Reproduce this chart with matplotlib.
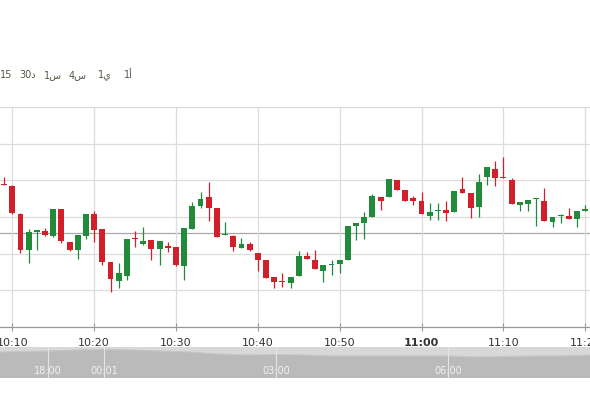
import matplotlib
matplotlib.use('Agg')
import matplotlib.pyplot as plt
import numpy as np

# One-minute candles, 10:09 .. 11:20 (minute offset from 10:10)
minutes = list(range(-1, 71))
opens = [1571.5, 1570.5, 1556.5, 1538.5, 1547.5, 1548.0, 1545.5, 1559.0, 1542.5, 1538.5,
         1545.5, 1556.5, 1549.0, 1532.5, 1523.0, 1525.5, 1544.5, 1541.5, 1543.5, 1539.0,
         1540.5, 1540.0, 1530.5, 1549.0, 1560.5, 1565.0, 1559.5, 1546.0, 1545.5, 1539.5,
         1541.5, 1537.0, 1533.5, 1525.0, 1522.5, 1522.0, 1525.5, 1535.5, 1533.5, 1528.0,
         1530.75, 1531.5, 1533.5, 1550.5, 1552.0, 1555.0, 1565.0, 1565.0, 1573.5, 1568.5,
         1564.5, 1563.0, 1555.5, 1558.0, 1558.5, 1557.5, 1569.0, 1567.0, 1560.0, 1575.0,
         1579.0, 1574.5, 1573.5, 1561.0, 1561.5, 1564.0, 1563.0, 1552.5, 1555.25, 1555.5,
         1554.0, 1558.0]
highs = [1575.0, 1571.0, 1557.0, 1549.0, 1548.5, 1549.5, 1559.0, 1559.0, 1542.5, 1546.0,
         1556.5, 1558.0, 1549.0, 1532.5, 1532.0, 1544.0, 1548.0, 1550.0, 1543.5, 1543.0,
         1542.5, 1540.0, 1549.5, 1562.5, 1567.5, 1572.5, 1559.5, 1552.5, 1546.0, 1544.5,
         1542.5, 1537.0, 1533.5, 1525.0, 1527.0, 1525.0, 1538.0, 1537.5, 1538.5, 1531.0,
         1533.5, 1533.5, 1550.5, 1552.0, 1557.5, 1566.5, 1565.0, 1574.0, 1573.5, 1568.5,
         1565.5, 1567.5, 1562.0, 1562.0, 1563.0, 1568.0, 1575.0, 1567.0, 1576.5, 1580.0,
         1583.0, 1585.0, 1574.5, 1562.5, 1563.5, 1564.5, 1569.5, 1555.0, 1556.5, 1559.5,
         1558.0, 1561.0]
lows = [1570.75, 1556.5, 1537.0, 1532.0, 1538.5, 1545.5, 1545.0, 1542.0, 1538.0, 1534.0,
        1544.0, 1542.5, 1531.0, 1517.5, 1519.5, 1523.5, 1540.0, 1541.0, 1533.5, 1531.0,
        1537.5, 1530.5, 1523.5, 1549.0, 1559.5, 1553.0, 1545.0, 1546.0, 1538.0, 1539.5,
        1538.0, 1528.0, 1524.5, 1519.5, 1520.0, 1519.5, 1525.5, 1534.0, 1529.0, 1522.5,
        1526.0, 1527.0, 1533.5, 1543.5, 1544.0, 1555.0, 1558.5, 1565.0, 1568.5, 1563.0,
        1561.0, 1556.5, 1553.5, 1553.5, 1553.0, 1557.5, 1567.0, 1554.5, 1555.0, 1571.0,
        1570.5, 1574.25, 1561.5, 1558.0, 1558.0, 1550.5, 1553.0, 1550.0, 1552.0, 1554.0,
        1550.0, 1558.0]
closes = [1570.75, 1557.0, 1538.5, 1547.5, 1548.5, 1546.0, 1559.0, 1543.0, 1538.5, 1546.0,
          1556.5, 1548.5, 1532.5, 1524.0, 1527.0, 1544.0, 1544.0, 1543.0, 1539.0, 1543.0,
          1539.5, 1531.0, 1549.5, 1560.5, 1564.0, 1559.5, 1545.0, 1546.5, 1540.0, 1541.5,
          1538.5, 1533.5, 1524.5, 1522.5, 1522.25, 1525.0, 1535.5, 1534.0, 1529.0, 1531.0,
          1531.0, 1533.5, 1550.5, 1552.0, 1555.0, 1565.5, 1563.0, 1574.0, 1568.5, 1563.0,
          1563.0, 1556.5, 1557.5, 1558.5, 1557.0, 1568.0, 1567.0, 1559.5, 1572.5, 1580.0,
          1574.5, 1574.25, 1561.5, 1562.5, 1563.5, 1564.5, 1553.0, 1555.0, 1555.5, 1554.0,
          1558.0, 1559.0]
prev_close = 1547.0

tick_minutes = [0, 10, 20, 30, 40, 50, 60, 70]
tick_labels = ['10:10', '10:20', '10:30', '10:40', '10:50', '11:00', '11:10', '11:20']

# Navigator (overview) series, hours on a compressed session axis
nav_hours = [-1.81, -0.98, -0.5, 0.0, 0.5, 1.0, 1.5, 2.0, 2.5, 3.0, 3.5,
             4.0, 4.5, 5.0, 5.5, 6.0, 6.5, 7.0, 7.5, 8.0, 8.5]
nav_values = [26, 27, 28, 28.5, 28, 27, 26, 24, 23, 23.5, 23,
              22, 22, 22, 22, 22, 21, 21.5, 22, 22, 23]
nav_tick_hours = [-0.98, 0.0, 3.0, 6.0]
nav_tick_labels = ['18:00', '00:01', '03:00', '06:00']

# Period buttons at top
periods = ['15', '30د', '1س', '4س', '1ي', '1أ']

RED = '#d2202a'
GREEN = '#228a3b'
W, H = 590, 393

fig = plt.figure(figsize=(W / 100, H / 100), dpi=100)
fig.patch.set_facecolor('white')

# Main price axes
ax = fig.add_axes([0, (H - 327) / H, 1, (327 - 107) / H])
ax.set_xlim(-1.5, 70.58)
ax.set_ylim(1500, 1610)

colors = [GREEN if c >= o else RED for o, c in zip(opens, closes)]
bottoms = [min(o, c) for o, c in zip(opens, closes)]
heights = [max(abs(c - o), 0.6) for o, c in zip(opens, closes)]
ax.vlines(minutes, lows, highs, colors=colors, linewidth=0.9, zorder=3)
ax.bar(minutes, heights, bottom=bottoms, width=0.72, color=colors, linewidth=0, zorder=4)

# Grid
ax.set_yticks(np.linspace(1500, 1610, 7))
ax.set_yticklabels([])
ax.grid(axis='both', color='#dddddd', linewidth=0.9, zorder=0)
ax.axhline(prev_close, color='#a8a8a8', linewidth=0.9, zorder=1)

ax.set_xticks(tick_minutes)
ax.set_xticklabels(tick_labels, fontsize=8, color='#333333')
for lbl in ax.get_xticklabels():
    if lbl.get_text() == '11:00':
        lbl.set_fontweight('bold')
ax.tick_params(axis='x', direction='inout', length=6, width=0.8, color='#999999', pad=5)
ax.tick_params(axis='y', length=0)
for side in ['left', 'right']:
    ax.spines[side].set_visible(False)
ax.spines['top'].set_color('#dddddd')
ax.spines['bottom'].set_color('#999999')
ax.spines['bottom'].set_linewidth(0.9)

# Navigator
nav = fig.add_axes([0, (H - 378) / H, 1, (378 - 347) / H])
nav.set_facecolor('#d8d8d8')
nav.set_xlim(-1.81, 8.48)
nav.set_ylim(0, 31)
nav.fill_between(nav_hours, 0, nav_values, color='#bababa', linewidth=0, zorder=1)
nav.plot(nav_hours, nav_values, color='#c6c6c6', linewidth=0.8, zorder=2)
for h, lab in zip(nav_tick_hours, nav_tick_labels):
    nav.axvline(h, color='#e4e4e4', linewidth=0.8, zorder=3)
    nav.text(h, 7, lab, ha='center', va='center', fontsize=7, color='#f2f2f2', zorder=4)
nav.set_xticks([])
nav.set_yticks([])
for s in nav.spines.values():
    s.set_visible(False)

# Period selector text
period_x = [6, 28, 53, 78, 105, 128]
for px, lab in zip(period_x, periods):
    fig.text(px / W, 1 - 75 / H, lab, ha='center', va='center', fontsize=7,
             color='#555544', family=['DejaVu Sans'])

fig.savefig('out.png', dpi=100)
